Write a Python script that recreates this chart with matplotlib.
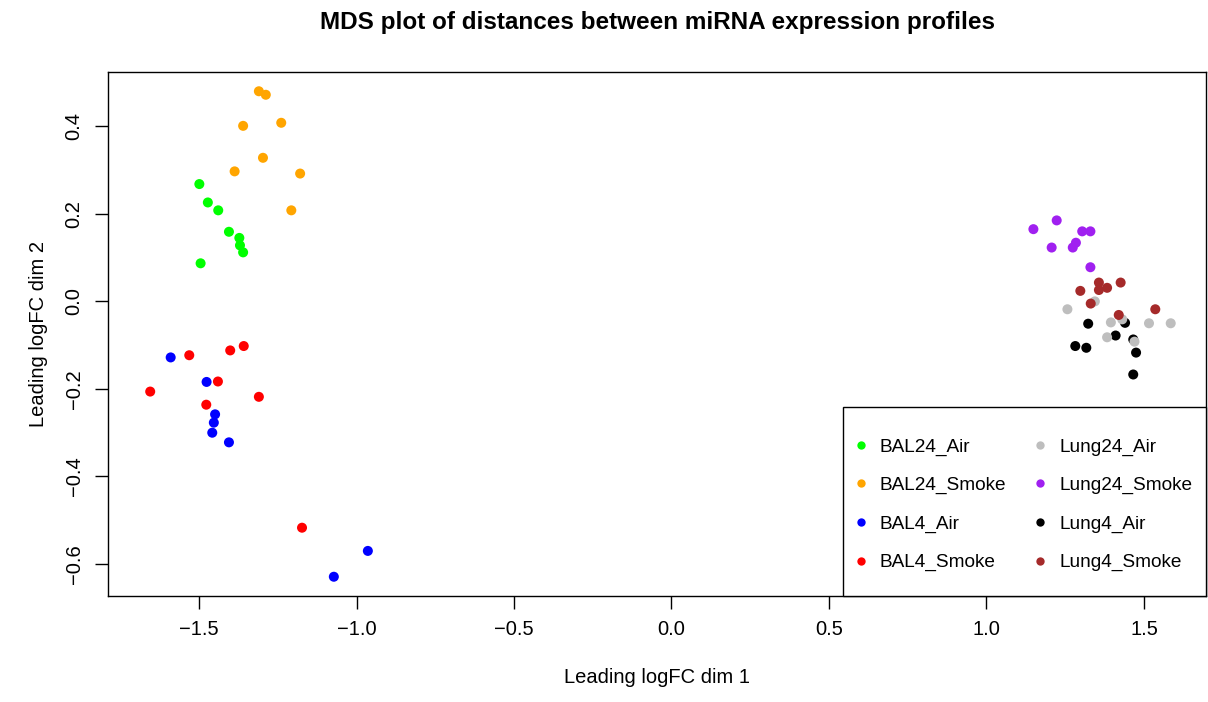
import matplotlib
matplotlib.use("Agg")
import matplotlib.pyplot as plt
from matplotlib.patches import Rectangle

plt.rcParams['font.family'] = ['Liberation Sans', 'DejaVu Sans']

# leading logFC coordinates, 8 samples per group
bal24_air_x = [-1.499, -1.472, -1.439, -1.405, -1.372, -1.370, -1.360, -1.495]
bal24_air_y = [0.268, 0.226, 0.208, 0.159, 0.145, 0.128, 0.112, 0.087]
bal24_smoke_x = [-1.310, -1.288, -1.360, -1.239, -1.297, -1.387, -1.179, -1.207]
bal24_smoke_y = [0.480, 0.472, 0.401, 0.408, 0.328, 0.297, 0.292, 0.208]
bal4_air_x = [-1.590, -1.476, -1.449, -1.453, -1.458, -1.405, -0.964, -1.072]
bal4_air_y = [-0.128, -0.184, -0.258, -0.277, -0.300, -0.322, -0.570, -0.629]
bal4_smoke_x = [-1.531, -1.401, -1.358, -1.440, -1.655, -1.310, -1.477, -1.173]
bal4_smoke_y = [-0.123, -0.112, -0.102, -0.183, -0.206, -0.218, -0.236, -0.517]
lung24_air_x = [1.344, 1.257, 1.395, 1.431, 1.516, 1.585, 1.383, 1.470]
lung24_air_y = [0.000, -0.018, -0.048, -0.041, -0.050, -0.050, -0.082, -0.092]
lung24_smoke_x = [1.149, 1.223, 1.304, 1.330, 1.207, 1.284, 1.274, 1.330]
lung24_smoke_y = [0.165, 0.185, 0.160, 0.160, 0.123, 0.134, 0.123, 0.078]
lung4_air_x = [1.323, 1.440, 1.410, 1.466, 1.282, 1.317, 1.475, 1.466]
lung4_air_y = [-0.051, -0.049, -0.078, -0.087, -0.102, -0.106, -0.117, -0.167]
lung4_smoke_x = [1.357, 1.426, 1.298, 1.357, 1.383, 1.331, 1.420, 1.536]
lung4_smoke_y = [0.043, 0.043, 0.024, 0.026, 0.031, -0.005, -0.031, -0.018]

groups = ["BAL24_Air", "BAL24_Smoke", "BAL4_Air", "BAL4_Smoke",
          "Lung24_Air", "Lung24_Smoke", "Lung4_Air", "Lung4_Smoke"]
colors = ["#00FF00", "#FFA500", "#0000FF", "#FF0000",
          "#BEBEBE", "#A020F0", "#000000", "#A52A2A"]
xs = [bal24_air_x, bal24_smoke_x, bal4_air_x, bal4_smoke_x,
      lung24_air_x, lung24_smoke_x, lung4_air_x, lung4_smoke_x]
ys = [bal24_air_y, bal24_smoke_y, bal4_air_y, bal4_smoke_y,
      lung24_air_y, lung24_smoke_y, lung4_air_y, lung4_smoke_y]

W, H = 1208, 702
fig = plt.figure(figsize=(W / 100, H / 100), dpi=100)
ax = fig.add_axes([108 / W, 1 - 596 / H, (1206 - 108) / W, (596 - 72) / H])

# draw order: BAL first, then lung groups (air before smoke within lung4/lung24 mix)
order = [0, 1, 2, 3, 5, 6, 4, 7]
for i in order:
    ax.scatter(xs[i], ys[i], s=52, color=colors[i], edgecolors='none', zorder=3)

ax.set_xlim(-1.789, 1.697)
ax.set_ylim(-0.673, 0.524)
ax.set_xticks([-1.5, -1.0, -0.5, 0.0, 0.5, 1.0, 1.5])
ax.set_yticks([-0.6, -0.4, -0.2, 0.0, 0.2, 0.4])
ax.set_xticklabels(["\u22121.5", "\u22121.0", "\u22120.5", "0.0", "0.5", "1.0", "1.5"])
ax.set_yticklabels(["\u22120.6", "\u22120.4", "\u22120.2", "0.0", "0.2", "0.4"],
                   rotation=90, va='center')
ax.tick_params(axis='both', direction='out', length=9.5, width=1.0,
               labelsize=14.5, pad=8, colors='black')
for sp in ax.spines.values():
    sp.set_linewidth(1.0)

ax.set_xlabel("Leading logFC dim 1", fontsize=14.5, labelpad=21)
ax.set_ylabel("Leading logFC dim 2", fontsize=14.5, labelpad=12)

fig.text((108 + 1206) / 2 / W, 1 - 22 / H,
         "MDS plot of distances between miRNA expression profiles",
         ha='center', va='center', fontsize=17.5, fontweight='bold')

# legend frame in the lower-right corner, flush with the axes
ax.add_patch(Rectangle(((843 - 108) / 1098, 0), (1206 - 843) / 1098, 189 / 524,
                       transform=ax.transAxes, facecolor='white', edgecolor='black',
                       linewidth=1.0, zorder=5, clip_on=False))

leg_handles = [plt.Line2D([], [], marker='o', linestyle='none', markersize=6,
                          markerfacecolor=c, markeredgecolor='none') for c in colors]
leg = ax.legend(leg_handles, groups, ncol=2, frameon=False, fontsize=13.7,
                loc='upper left', bbox_to_anchor=((851 - 108) / 1098, (596 - 438) / 524),
                borderpad=0, borderaxespad=0, handlelength=1.0, handletextpad=0.5,
                columnspacing=1.3, labelspacing=1.11)
leg.set_zorder(6)

fig.savefig("out.png", dpi=100)
